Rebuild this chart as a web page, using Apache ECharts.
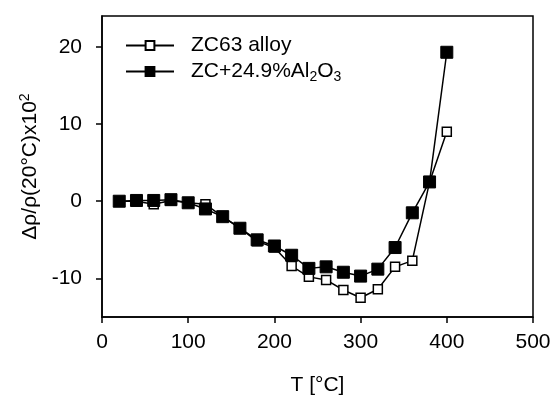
<!DOCTYPE html>
<html><head><meta charset="utf-8">
<script src="https://cdn.jsdelivr.net/npm/echarts@6/dist/echarts.min.js"></script>
<style>html,body{margin:0;padding:0;background:#fff}#c{width:556px;height:405px}</style>
</head><body><div id="c"></div>
<script>
const temps = [20,40,60,80,100,120,140,160,180,200,220,240,260,280,300,320,340,360,380,400];
const alloy = [0,0,-0.4,0.1,-0.2,-0.4,-2.0,-3.5,-5.2,-6.0,-8.4,-9.8,-10.2,-11.5,-12.5,-11.4,-8.5,-7.7,2.5,9.0];
const composite = [0,0.1,0.1,0.2,-0.2,-1.0,-2.0,-3.5,-5.0,-5.8,-7.0,-8.7,-8.5,-9.2,-9.7,-8.8,-6.0,-1.5,2.5,19.3];
const xTicks = [0,100,200,300,400,500];
const yTicks = [-10,0,10,20];
const names = ['ZC63 alloy','ZC+24.9%Al2O3'];

const chart = echarts.init(document.getElementById('c'));
const font = 'Liberation Sans, Arial, sans-serif';
chart.setOption({
  animation:false,
  backgroundColor:'#fff',
  grid:{left:102,right:23,top:16,bottom:88,show:true,borderColor:'#000',borderWidth:1.5,backgroundColor:'transparent'},
  legend:{
    left:120, top:30, orient:'vertical', itemGap:5, itemWidth:48, itemHeight:11,
    data:names,
    textStyle:{fontFamily:font,fontSize:21,color:'#000',padding:[0,0,0,12],
      rich:{n:{fontFamily:font,fontSize:21,color:'#000'},s:{fontFamily:font,fontSize:14,color:'#000',verticalAlign:'bottom',padding:[12,0,0,0]}}},
    formatter:function(n){
      if(n===names[1]) return '{n|ZC+24.9%Al}{s|2}{n|O}{s|3}';
      return '{n|'+n+'}';
    }
  },
  xAxis:{
    type:'value',min:0,max:500,interval:100,
    name:'T [°C]',nameLocation:'middle',nameGap:58,
    nameTextStyle:{fontFamily:font,fontSize:21,color:'#000'},
    axisLine:{onZero:false,lineStyle:{color:'#000',width:1.5}},
    axisTick:{show:true,length:6,lineStyle:{color:'#000',width:1.5}},
    axisLabel:{fontFamily:font,fontSize:21,color:'#000',margin:15,
      formatter:v=>xTicks.includes(v)?String(v):''},
    splitLine:{show:false}
  },
  yAxis:{
    type:'value',min:-15,max:24,
    name:'{n|Δρ/ρ(20°C)x10}{s|2}',nameLocation:'middle',nameGap:50,
    nameTextStyle:{fontFamily:font,fontSize:21,color:'#000',
      rich:{n:{fontFamily:font,fontSize:21,color:'#000'},s:{fontFamily:font,fontSize:14,color:'#000',verticalAlign:'top',padding:[0,0,10,0]}}},
    axisLine:{onZero:false,lineStyle:{color:'#000',width:1.5}},
    axisTick:{show:true,length:6,lineStyle:{color:'#000',width:1.5},customValues:yTicks},
    axisLabel:{fontFamily:font,fontSize:21,color:'#000',margin:20,customValues:yTicks},
    splitLine:{show:false}
  },
  series:[
    {name:names[0],type:'line',data:temps.map((t,i)=>[t,alloy[i]]),
     symbol:'rect',symbolSize:9,showAllSymbol:true,
     lineStyle:{color:'#000',width:1.5},
     itemStyle:{color:'#fff',borderColor:'#000',borderWidth:1.5},z:2},
    {name:names[1],type:'line',data:temps.map((t,i)=>[t,composite[i]]),
     symbol:'rect',symbolSize:12,showAllSymbol:true,
     lineStyle:{color:'#000',width:1.5},
     itemStyle:{color:'#000',borderColor:'#000',borderWidth:1},z:3}
  ]
});
</script></body></html>
